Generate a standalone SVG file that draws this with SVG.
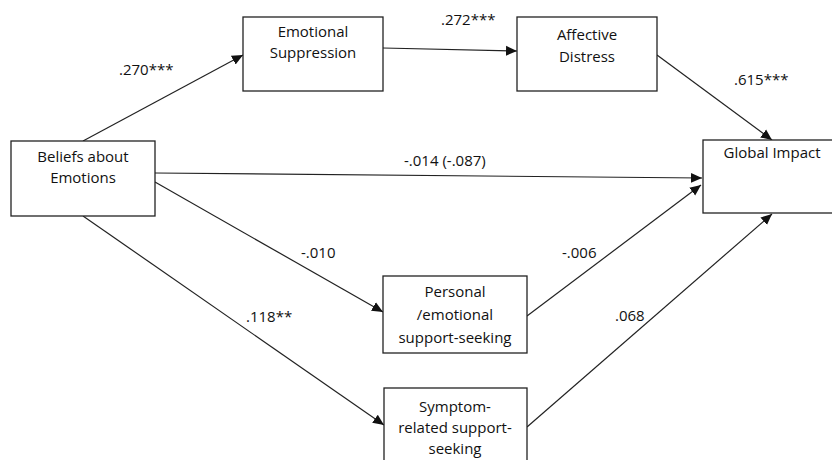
<svg xmlns="http://www.w3.org/2000/svg" width="832" height="460" viewBox="0 0 832 460">
<style>
.box{fill:#fff;stroke:#222;stroke-width:1.3}
.t{font-family:"Open Sans","Liberation Sans",sans-serif;font-size:15px;fill:#111;text-anchor:middle}
.lab{font-family:"Open Sans","Liberation Sans",sans-serif;font-size:15px;fill:#111}
.e{stroke:#222;stroke-width:1.2;fill:none;marker-end:url(#ah)}
</style>
<defs>
<marker id="ah" viewBox="0 0 10 10" refX="10" refY="5" markerWidth="11" markerHeight="11" markerUnits="userSpaceOnUse" orient="auto">
<path d="M0,0.5 L10,5 L0,9.5 Z" fill="#111"/>
</marker>
</defs>
<rect width="832" height="460" fill="#fff"/>
<g id="connectors">
<line class="e" x1="83" y1="141" x2="243" y2="55"/>
<line class="e" x1="383" y1="48" x2="517" y2="51"/>
<line class="e" x1="657" y1="55" x2="772" y2="140"/>
<line class="e" x1="155" y1="173" x2="702" y2="178"/>
<line class="e" x1="155" y1="182" x2="383" y2="312"/>
<line class="e" x1="83" y1="216" x2="384" y2="425"/>
<line class="e" x1="527" y1="316" x2="701" y2="185"/>
<line class="e" x1="527" y1="427" x2="772" y2="214"/>
</g>
<g id="labels">
<text class="lab" x="119" y="75">.270***</text>
<text class="lab" x="441" y="25">.272***</text>
<text class="lab" x="734" y="85">.615***</text>
<text class="lab" x="404" y="166">-.014 (-.087)</text>
<text class="lab" x="301" y="258">-.010</text>
<text class="lab" x="246" y="322">.118**</text>
<text class="lab" x="562" y="258">-.006</text>
<text class="lab" x="615" y="321">.068</text>
</g>
<g id="beliefs">
<rect class="box" x="11" y="141" width="144" height="75"/>
<text class="t" x="83" y="162">Beliefs about</text>
<text class="t" x="83" y="183">Emotions</text>
</g>
<g id="suppression">
<rect class="box" x="243" y="17" width="140" height="74"/>
<text class="t" x="313" y="37">Emotional</text>
<text class="t" x="313" y="58">Suppression</text>
</g>
<g id="distress">
<rect class="box" x="517" y="17" width="140" height="74"/>
<text class="t" x="587" y="40">Affective</text>
<text class="t" x="587" y="62">Distress</text>
</g>
<g id="global">
<rect class="box" x="703" y="140" width="140" height="73"/>
<text class="t" x="772" y="158">Global Impact</text>
</g>
<g id="personal">
<rect class="box" x="383" y="276" width="144" height="77"/>
<text class="t" x="455" y="297">Personal</text>
<text class="t" x="455" y="320">/emotional</text>
<text class="t" x="455" y="343">support-seeking</text>
</g>
<g id="symptom">
<rect class="box" x="384" y="388" width="143" height="90"/>
<text class="t" x="455" y="412">Symptom-</text>
<text class="t" x="455" y="433">related support-</text>
<text class="t" x="455" y="454">seeking</text>
</g>
</svg>
